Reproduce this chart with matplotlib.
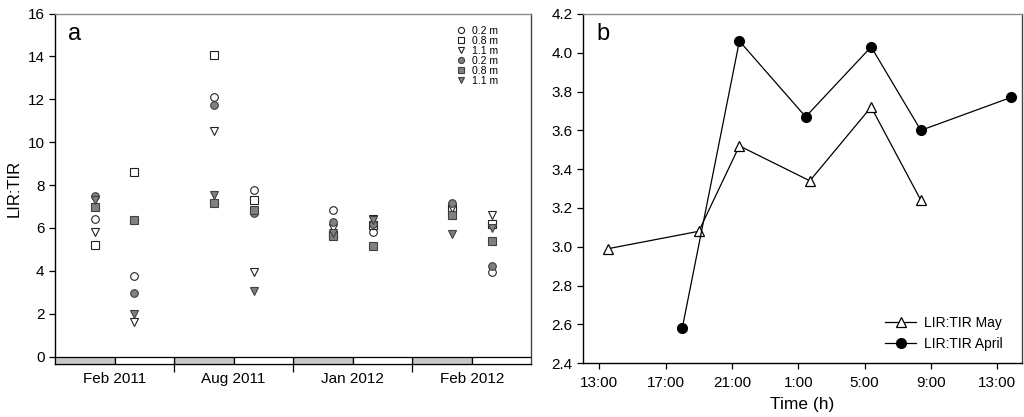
import numpy as np
import matplotlib.pyplot as plt

plt.rcParams['font.family'] = ['Liberation Sans', 'DejaVu Sans']

# panel a: LIR:TIR per sampling campaign, two sampling times per campaign
months = ['Feb 2011', 'Aug 2011', 'Jan 2012', 'Feb 2012']
depth_labels = ['0.2 m', '0.8 m', '1.1 m', '0.2 m', '0.8 m', '1.1 m']

# order: Feb11 first/second, Aug11 first/second, Jan12 ..., Feb12 ...
open_02 = [6.42, 3.77, 12.09, 7.77, 6.85, 5.81, 7.05, 3.94]
open_08 = [5.18, 8.63, 14.05, 7.30, 5.65, 6.15, 6.95, 6.18]
open_11 = [5.81, 1.63, 10.53, 3.95, 6.00, 6.43, 6.95, 6.62]
filled_02 = [7.47, 2.98, 11.72, 6.70, 6.28, 6.20, 7.16, 4.23]
filled_08 = [6.98, 6.37, 7.18, 6.82, 5.61, 5.15, 6.60, 5.38]
filled_11 = [7.32, 2.00, 7.55, 3.05, 5.77, 6.35, 5.73, 5.98]

# panel b: diel course, time in hours from midnight of day 1
may_hours = [13.5, 19.0, 21.45, 25.7, 29.4, 32.4]
may_ratio = [2.99, 3.08, 3.52, 3.34, 3.72, 3.24]
april_hours = [18.0, 21.45, 25.45, 29.4, 32.4, 37.85]
april_ratio = [2.58, 4.06, 3.67, 4.03, 3.60, 3.77]
time_ticks = [13, 17, 21, 25, 29, 33, 37]
time_labels = ['13:00', '17:00', '21:00', '1:00', '5:00', '9:00', '13:00']

fig = plt.figure(figsize=(10.24, 4.17), dpi=100)
ax1 = fig.add_axes([0.0537, 0.127, 0.4653, 0.8406])
ax2 = fig.add_axes([0.5696, 0.1288, 0.4284, 0.8379])

TICK_FS = 11
GRAY = '#808080'

# ---- panel a ----
n = len(months)
pos = np.array([[i + 1/3, i + 2/3] for i in range(n)]).ravel()

open_kw = dict(ls='none', mfc='white', mec='#222222', mew=0.8, ms=5.5)
fill_kw = dict(ls='none', mfc=GRAY, mec='#404040', mew=0.8, ms=5.5)
ax1.plot(pos, open_02, 'o', label=depth_labels[0], **open_kw)
ax1.plot(pos, open_08, 's', label=depth_labels[1], **open_kw)
ax1.plot(pos, open_11, 'v', label=depth_labels[2], **open_kw)
ax1.plot(pos, filled_02, 'o', label=depth_labels[3], **fill_kw)
ax1.plot(pos, filled_08, 's', label=depth_labels[4], **fill_kw)
ax1.plot(pos, filled_11, 'v', label=depth_labels[5], **fill_kw)

# grey / white strip under each campaign
ax1.bar(np.arange(n), 0.35, bottom=-0.35, width=0.5, align='edge',
        color='#c8c8c8', edgecolor='black', lw=0.9, zorder=3)
ax1.bar(np.arange(n) + 0.5, 0.35, bottom=-0.35, width=0.5, align='edge',
        color='white', edgecolor='black', lw=0.9, zorder=3)

ax1.set_xlim(0, n)
ax1.set_ylim(-0.35, 16)
ax1.set_yticks(np.arange(0, 17, 2))
ax1.set_xticks(np.arange(n) + 0.5)
ax1.set_xticklabels(months)
ax1.set_xticks(np.arange(1, n), minor=True)
ax1.tick_params(axis='x', which='major', length=0, pad=6, labelsize=TICK_FS)
ax1.tick_params(axis='x', which='minor', length=6, width=0.9)
ax1.tick_params(axis='y', length=4, width=0.9, labelsize=TICK_FS)
ax1.set_ylabel('LIR:TIR', fontsize=12, labelpad=4)
ax1.text(0.028, 0.925, 'a', transform=ax1.transAxes, fontsize=17)

ax1.legend(loc='upper right', bbox_to_anchor=(0.945, 0.985), frameon=False,
           fontsize=7.5, labelspacing=0.0, handlelength=0.8, markerscale=0.8,
           handletextpad=0.6, borderpad=0.2)

# ---- panel b ----
ax2.plot(may_hours, may_ratio, '-^', color='black', lw=0.9, mfc='white',
         mec='black', mew=0.9, ms=7.5, label='LIR:TIR May')
ax2.plot(april_hours, april_ratio, '-o', color='black', lw=0.9, mfc='black',
         ms=7, label='LIR:TIR April')
ax2.set_xlim(12.03, 38.5)
ax2.set_ylim(2.4, 4.2)
ax2.set_yticks(np.arange(2.4, 4.21, 0.2))
ax2.set_yticklabels(['%.1f' % v for v in np.arange(2.4, 4.21, 0.2)])
ax2.set_xticks(time_ticks)
ax2.set_xticklabels(time_labels)
ax2.tick_params(axis='both', length=4, width=0.9, labelsize=TICK_FS)
ax2.tick_params(axis='x', pad=5)
ax2.set_xlabel('Time (h)', fontsize=12.5, labelpad=5)
ax2.text(0.03, 0.925, 'b', transform=ax2.transAxes, fontsize=17)
ax2.legend(loc='lower right', bbox_to_anchor=(0.985, 0.0), frameon=False,
           fontsize=10, handlelength=2.2, handletextpad=0.6, labelspacing=0.5)

for ax in (ax1, ax2):
    ax.spines['top'].set_color('#8c8c8c')
    ax.spines['right'].set_color('#444444')
    for s in ('left', 'bottom'):
        ax.spines[s].set_color('black')
    for s in ax.spines.values():
        s.set_linewidth(1.0)

fig.savefig('out.png', dpi=100)
